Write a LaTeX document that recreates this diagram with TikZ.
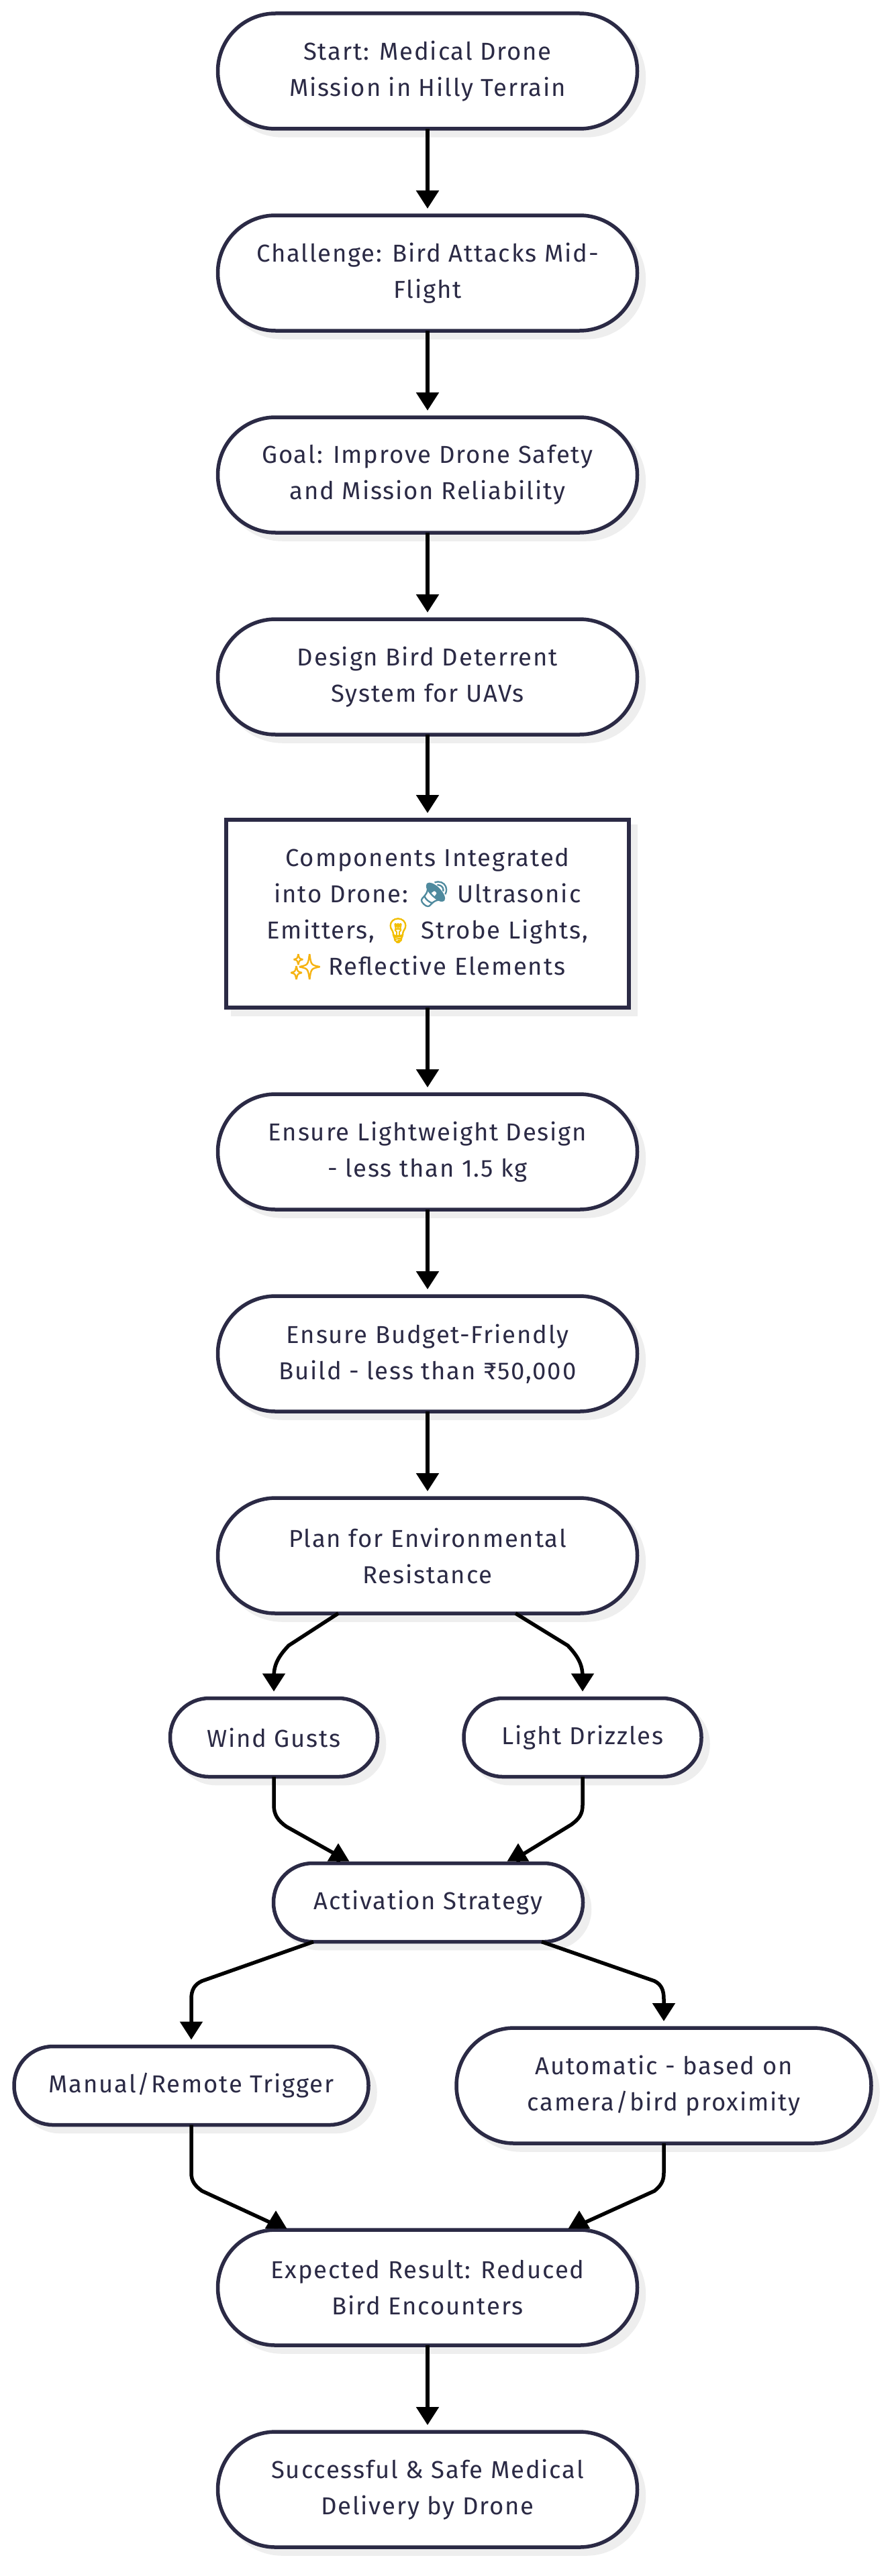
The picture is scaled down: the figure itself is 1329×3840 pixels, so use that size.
\documentclass[tikz,border=0pt]{standalone}
\usepackage{fontspec}
\setmainfont[LetterSpace=5]{Fira Sans}
\newfontfamily\emojifont[AutoFakeBold=2.5]{Noto Emoji}
\usetikzlibrary{arrows.meta,calc,backgrounds}
\definecolor{ink}{HTML}{2B2A45}
\definecolor{halo}{HTML}{EEEEEE}
\definecolor{spk}{HTML}{4F8A9E}
\definecolor{bulb}{HTML}{F2BE00}
\definecolor{spark}{HTML}{F6B312}
\newcommand{\emo}[2]{{\color{#1}\emojifont\bfseries #2}}
\tikzset{
  x=1pt,y=-1pt,
  nodebase/.style={draw=ink,fill=white,line width=5.5pt,outer sep=0pt,inner sep=0pt,align=center,text=ink,
    font=\fontsize{36.5}{54}\selectfont},
  tallpill/.style={nodebase,minimum width=#1,minimum height=172pt,rounded corners=86pt},
  shortpill/.style={nodebase,minimum width=#1,minimum height=117pt,rounded corners=58pt},
  sharpbox/.style={nodebase,minimum width=600pt,minimum height=280pt},
  flow/.style={draw=black,line width=5.5pt,-{Triangle[length=27pt,width=33pt]},shorten >=10pt},
  upflow/.style={draw=black,line width=5.5pt,-{Triangle[length=27pt,width=31pt]}}
}
\begin{document}
\begin{tikzpicture}
\useasboundingbox (0,0) rectangle (1329,3840);
\node[tallpill=625pt] (start) at (637,106) {Start: Medical Drone\\Mission in Hilly Terrain};
\node[tallpill=625pt] (challenge) at (637,407) {Challenge: Bird Attacks Mid-\\Flight};
\node[tallpill=625pt] (goal) at (637,708) {Goal: Improve Drone Safety\\and Mission Reliability};
\node[tallpill=625pt] (design) at (637,1009) {Design Bird Deterrent\\System for UAVs};
\node[sharpbox] (components) at (637,1362) {Components Integrated\\into Drone: \emo{spk}{🔊} Ultrasonic\\Emitters, \emo{bulb}{💡} Strobe Lights,\\\emo{spark}{✨} Reflective Elements};
\node[tallpill=625pt] (light) at (637,1717) {Ensure Lightweight Design\\- less than 1.5 kg};
\node[tallpill=625pt] (budget) at (637,2018) {Ensure Budget-Friendly\\Build - less than ₹50,000};
\node[tallpill=625pt] (plan) at (637,2319) {Plan for Environmental\\Resistance};
\node[shortpill=309pt] (wind) at (408,2590) {Wind Gusts};
\node[shortpill=354pt] (drizzle) at (868,2590) {Light Drizzles};
\node[shortpill=461pt] (activation) at (638,2836) {Activation Strategy};
\node[shortpill=528pt] (manual) at (285,3109) {Manual/Remote Trigger};
\node[tallpill=618pt] (auto) at (989,3109) {Automatic - based on\\camera/bird proximity};
\node[tallpill=625pt] (result) at (637,3410) {Expected Result: Reduced\\Bird Encounters};
\node[tallpill=625pt] (delivery) at (637,3711) {Successful \& Safe Medical\\Delivery by Drone};

\begin{pgfonlayer}{background}
\fill[white] (0,0) rectangle (1329,3840);
\foreach \nm/\rad in {start/88.75,challenge/88.75,goal/88.75,design/88.75,components/0,light/88.75,budget/88.75,plan/88.75,wind/60.75,drizzle/60.75,activation/60.75,manual/60.75,auto/88.75,result/88.75,delivery/88.75}{
  \fill[halo,rounded corners=\rad pt] ($(\nm.south west)+(7.25,12.75)$) rectangle ($(\nm.north east)+(12.75,7.25)$);
}
\end{pgfonlayer}

\draw[flow] (start) -- (challenge);
\draw[flow] (challenge) -- (goal);
\draw[flow] (goal) -- (design);
\draw[flow] (design) -- (components);
\draw[flow] (components) -- (light);
\draw[flow] (light) -- (budget);
\draw[flow] (budget) -- (plan);
\draw[flow] (result) -- (delivery);

\draw[flow] ($(plan.south)+(-133,0)$) -- (430,2453) .. controls (414,2470) and (408,2482) .. (408,2500) -- (wind.north);
\draw[flow] ($(plan.south)+(131,0)$) -- (846,2453) .. controls (862,2470) and (868,2482) .. (868,2500) -- (drizzle.north);
\draw[upflow] (wind.south) -- (408,2691) .. controls (408,2705) and (414,2714) .. (427,2723) -- ($(activation.north)+(-130,-9)$) ($(activation.north)+(-134,-2)$) -- ++(0,-28);
\draw[upflow] (drizzle.south) -- (868,2691) .. controls (868,2705) and (862,2712) .. (851,2720) -- ($(activation.north)+(134,-9)$) ($(activation.north)+(134,-2)$) -- ++(0,-28);
\draw[flow] ($(activation.south)+(-171,0)$) -- (301,2953) .. controls (290,2958) and (285,2966) .. (285,2980) -- (manual.north);
\draw[flow] ($(activation.south)+(169,0)$) -- (975,2953) .. controls (985,2958) and (989,2966) .. (989,2980) -- (auto.north);
\draw[upflow] (manual.south) -- (285,3239) .. controls (285,3251) and (290,3258) .. (301,3266) -- ($(result.north)+(-230,-9)$) ($(result.north)+(-226,-2)$) -- ++(0,-27);
\draw[upflow] (auto.south) -- (989,3239) .. controls (989,3251) and (985,3258) .. (975,3266) -- ($(result.north)+(230,-9)$) ($(result.north)+(226,-2)$) -- ++(0,-27);
\end{tikzpicture}
\end{document}
